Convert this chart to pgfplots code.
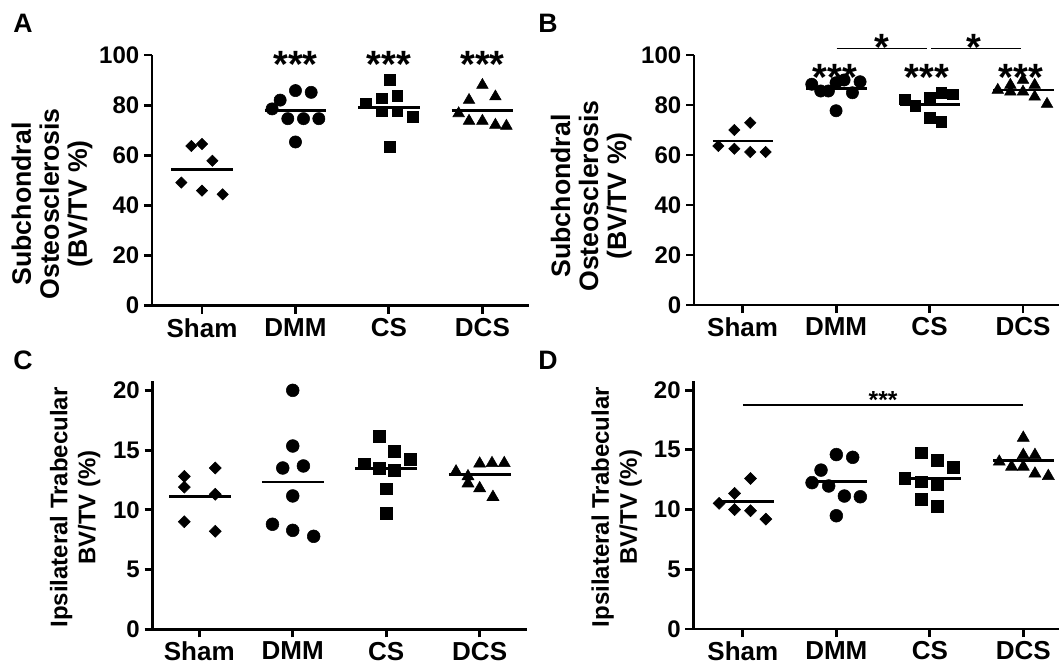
\documentclass[border=0pt]{standalone}
\usepackage{fontspec}
\setmainfont{Liberation Sans}
\usepackage{pgfplots}
\pgfplotsset{compat=1.18}

% 1 px of the reference = 0.75pt
\pgfplotsset{
  panel/.style={
    x=70.1pt,
    anchor=south west,
    axis x line=bottom, axis y line=left,
    axis line style={-, line width=2.2pt},
    every tick/.style={black, line width=2.2pt},
    tick align=outside, major tick length=6pt,
    xtick={0,1,2,3}, xticklabels={Sham,DMM,CS,DCS},
    yticklabel style={font=\fontsize{18}{18}\selectfont\bfseries},
    xticklabel style={font=\fontsize{19.5}{19.5}\selectfont\bfseries},
    /pgf/number format/assume math mode=true,
    enlargelimits=false, clip=false,
    ylabel style={align=center, anchor=center,
      font=\fontsize{18}{21}\selectfont\bfseries},
  },
  pts/.style={only marks, black, mark options={fill=black, draw=black, solid}},
  mean/.style={black, line width=2.2pt, no marks},
  bar/.style={black, line width=1.1pt, no marks},
}
\newcommand{\stars}{\fontsize{28.5}{28.5}\selectfont\bfseries}
\newcommand{\letter}{\fontsize{20}{20}\selectfont\bfseries}

\begin{document}
\begin{tikzpicture}
\useasboundingbox (0,0) rectangle (795.75pt,501.75pt);

% panel letters
\node[anchor=base west, font=\letter, inner sep=0pt] at (9.75pt,477pt) {A};
\node[anchor=base west, font=\letter, inner sep=0pt] at (403.5pt,477pt) {B};
\node[anchor=base west, font=\letter, inner sep=0pt] at (9.75pt,225pt) {C};
\node[anchor=base west, font=\letter, inner sep=0pt] at (403.5pt,225pt) {D};

% ---------- A ----------
\begin{axis}[panel, at={(114pt,272.5pt)}, y=1.88pt,
  xmin=-0.535, xmax=3.5, ymin=0, ymax=100, ytick={0,20,...,100},
  ylabel={Subchondral\\Osteosclerosis\\(BV/TV \%)},
  ylabel style={at={(axis description cs:-0.265,0.406)},
    font=\fontsize{20}{21}\selectfont\bfseries}]
  \addplot[pts, mark=square*, mark size=3pt, mark options={rotate=45}] coordinates {
    (-0.114,63.7) (0,64.5) (0.111,57.8) (-0.221,49.1) (0,45.9) (0.221,44.4)};
  \addplot[pts, mark=*, mark size=4.6pt] coordinates {
    (0.75,78.5) (0.836,82.0) (1,85.8) (1.168,85.1) (0.918,74.6) (1.086,74.6) (1.25,74.6) (1,65.3)};
  \addplot[pts, mark=square*, mark size=4pt] coordinates {
    (1.754,80.7) (1.925,82.7) (2.089,83.8) (2.011,90.2) (1.925,77.5) (2.089,77.5) (2.257,75.4) (2.011,63.4)};
  \addplot[pts, mark=triangle*, mark size=5pt] coordinates {
    (2.746,76.7) (2.857,82.0) (3,88.0) (3.139,83.4) (2.857,73.7) (3,73.7) (3.139,72.1) (3.257,71.7)};
  \addplot[mean] coordinates {(-0.33,54.4) (0.33,54.4)};
  \addplot[mean] coordinates {(0.67,77.8) (1.33,77.8)};
  \addplot[mean] coordinates {(1.67,79.0) (2.33,79.0)};
  \addplot[mean] coordinates {(2.67,77.9) (3.33,77.9)};
  \node[font=\stars, anchor=base] at (axis cs:1,91.2) {***};
  \node[font=\stars, anchor=base] at (axis cs:2,91.2) {***};
  \node[font=\stars, anchor=base] at (axis cs:3,91.2) {***};
\end{axis}

% ---------- B ----------
\begin{axis}[panel, at={(520.5pt,273pt)}, y=1.875pt,
  xmin=-0.52, xmax=3.38, ymin=0, ymax=100, ytick={0,20,...,100},
  ylabel={Subchondral\\Osteosclerosis\\(BV/TV \%)},
  ylabel style={at={(axis description cs:-0.282,0.436)},
    font=\fontsize{20}{21}\selectfont\bfseries}]
  \addplot[pts, mark=square*, mark size=3pt, mark options={rotate=45}] coordinates {
    (-0.26,63.6) (-0.089,70.0) (0.082,72.9) (-0.089,62.5) (0.082,61.2) (0.246,61.2)};
  \addplot[pts, mark=*, mark size=4.6pt] coordinates {
    (0.74,88.3) (0.836,85.6) (0.918,85.6) (1,88.9) (1.086,90.0) (1.257,89.3) (1.175,84.9) (1,77.7)};
  \addplot[pts, mark=square*, mark size=4pt] coordinates {
    (1.732,82.3) (1.846,79.6) (2,82.9) (2.125,84.9) (2.25,84.3) (2,74.9) (2.125,73.2)};
  \addplot[pts, mark=triangle*, mark size=5pt] coordinates {
    (2.73,86.0) (2.865,88.0) (2.865,85.3) (3,90.0) (3,85.3) (3.125,88.0) (3.125,83.3) (3.257,80.4)};
  \addplot[mean] coordinates {(-0.32,65.6) (0.33,65.6)};
  \addplot[mean] coordinates {(0.68,86.5) (1.33,86.5)};
  \addplot[mean] coordinates {(1.68,80.3) (2.33,80.3)};
  \addplot[mean] coordinates {(2.68,86.0) (3.33,86.0)};
  \addplot[bar] coordinates {(1.005,102.7) (1.97,102.7)};
  \addplot[bar] coordinates {(2.02,102.7) (2.98,102.7)};
  \node[font=\stars, anchor=base] at (axis cs:1.49,97.9) {*};
  \node[font=\stars, anchor=base] at (axis cs:2.47,97.9) {*};
  \node[font=\stars, anchor=base] at (axis cs:0.99,85.9) {***};
  \node[font=\stars, anchor=base] at (axis cs:1.97,85.9) {***};
  \node[font=\stars, anchor=base] at (axis cs:2.98,85.9) {***};
\end{axis}

% ---------- C ----------
\begin{axis}[panel, at={(114.4pt,29.8pt)}, y=8.96pt,
  xmin=-0.5, xmax=3.505, ymin=0, ymax=20.8, ytick={0,5,...,20},
  ylabel={Ipsilateral Trabecular\\BV/TV (\%)},
  ylabel style={at={(axis description cs:-0.207,0.49)}}]
  \addplot[pts, mark=square*, mark size=3.2pt, mark options={rotate=45}] coordinates {
    (-0.16,12.8) (-0.16,11.9) (0.171,13.5) (0.171,11.3) (-0.16,9.0) (0.171,8.2)};
  \addplot[pts, mark=*, mark size=4.8pt] coordinates {
    (1,20.0) (1,15.34) (0.893,13.5) (1.114,13.67) (1,11.16) (0.783,8.79) (1,8.28) (1.224,7.78)};
  \addplot[pts, mark=square*, mark size=4.4pt] coordinates {
    (1.922,16.18) (2.089,14.92) (1.762,13.86) (1.922,13.5) (2.089,13.3) (2.26,14.2) (2,11.77) (2,9.68)};
  \addplot[pts, mark=triangle*, mark size=5.2pt] coordinates {
    (2.747,13.2) (2.875,12.8) (2.875,12.2) (3,13.86) (3.132,13.9) (3.263,13.9) (3,11.8) (3.142,11.07)};
  \addplot[mean] coordinates {(-0.32,11.13) (0.34,11.13)};
  \addplot[mean] coordinates {(0.67,12.33) (1.33,12.33)};
  \addplot[mean] coordinates {(1.67,13.44) (2.33,13.44)};
  \addplot[mean] coordinates {(2.67,12.94) (3.33,12.94)};
\end{axis}

% ---------- D ----------
\begin{axis}[panel, at={(520pt,30pt)}, y=8.96pt,
  xmin=-0.53, xmax=3.38, ymin=0, ymax=20.8, ytick={0,5,...,20},
  ylabel={Ipsilateral Trabecular\\BV/TV (\%)},
  ylabel style={at={(axis description cs:-0.21,0.49)}}]
  \addplot[pts, mark=square*, mark size=3.2pt, mark options={rotate=45}] coordinates {
    (-0.254,10.52) (-0.089,11.35) (0.082,12.6) (-0.089,10.0) (0.082,9.9) (0.246,9.2)};
  \addplot[pts, mark=*, mark size=4.8pt] coordinates {
    (0.74,12.25) (0.836,13.3) (0.918,11.97) (1,14.6) (1.175,14.37) (1.086,11.13) (1.257,11.07) (1,9.48)};
  \addplot[pts, mark=square*, mark size=4.4pt] coordinates {
    (1.732,12.6) (1.911,14.76) (2.082,14.14) (2.25,13.53) (1.911,12.33) (2.082,12.13) (1.911,10.85) (2.082,10.29)};
  \addplot[pts, mark=triangle*, mark size=5.2pt] coordinates {
    (2.743,14.0) (2.875,13.58) (3,16.0) (3,14.56) (3,13.58) (3.125,14.56) (3.125,13.0) (3.268,12.8)};
  \addplot[mean] coordinates {(-0.28,10.66) (0.33,10.66)};
  \addplot[mean] coordinates {(0.68,12.33) (1.33,12.33)};
  \addplot[mean] coordinates {(1.68,12.6) (2.33,12.6)};
  \addplot[mean] coordinates {(2.68,14.09) (3.33,14.09)};
  \addplot[bar] coordinates {(0,18.74) (3,18.74)};
  \node[font=\fontsize{18.5}{18.5}\selectfont\bfseries, anchor=base] at (axis cs:1.5,18.43) {***};
\end{axis}
\end{tikzpicture}
\end{document}
